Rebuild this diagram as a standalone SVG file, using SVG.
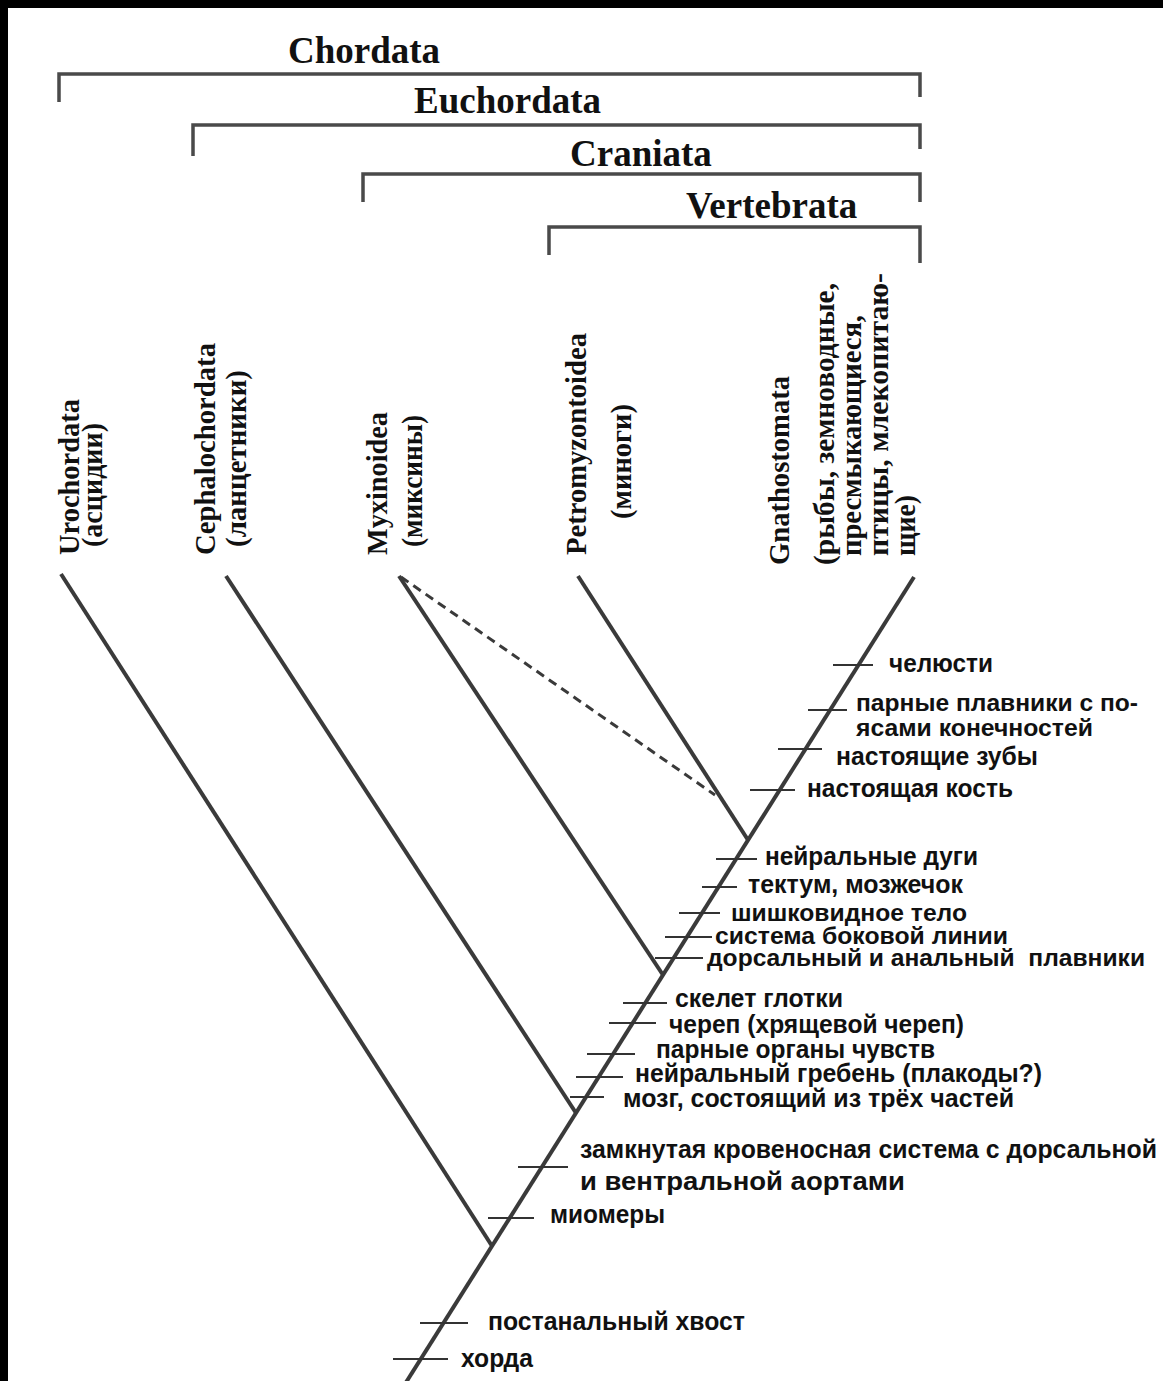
<svg xmlns="http://www.w3.org/2000/svg" width="1163" height="1381" viewBox="0 0 1163 1381">
<style>
.hdr{font-family:"Liberation Serif","Times New Roman",serif;font-weight:bold;font-size:37px;fill:#111}
.tax{font-family:"Liberation Serif","Times New Roman",serif;font-weight:bold;font-size:30px;fill:#111}
.lbl{font-family:"Liberation Sans",Arial,sans-serif;font-weight:bold;font-size:25px;fill:#111}
.sm{font-size:23px}
.br{fill:none;stroke:#4a4a4a;stroke-width:3.5}
.ln{fill:none;stroke:#3a3a3a;stroke-width:4;stroke-linecap:butt}
.tk{fill:none;stroke:#333;stroke-width:2}
.dash{fill:none;stroke:#3a3a3a;stroke-width:3;stroke-dasharray:9 6}
</style>
<rect x="0" y="0" width="1163" height="1381" fill="#fff"/>
<rect x="0" y="0" width="1163" height="8" fill="#000"/>
<rect x="0" y="0" width="8" height="1381" fill="#000"/>

<g id="clade-chordata">
<path class="br" d="M59,102 V74 H920 V97"/>
<text class="hdr" x="288" y="63">Chordata</text>
</g>
<g id="clade-euchordata">
<path class="br" d="M193,156 V125 H920 V149"/>
<text class="hdr" x="414" y="113">Euchordata</text>
</g>
<g id="clade-craniata">
<path class="br" d="M363,202 V174 H920 V202"/>
<text class="hdr" x="570" y="166">Craniata</text>
</g>
<g id="clade-vertebrata">
<path class="br" d="M549,255 V227 H920 V263"/>
<text class="hdr" x="686" y="218">Vertebrata</text>
</g>

<g id="taxon-urochordata" class="tax">
<text transform="translate(79,555) rotate(-90)" textLength="156" lengthAdjust="spacingAndGlyphs">Urochordata</text>
<text transform="translate(102,547) rotate(-90)" textLength="124" lengthAdjust="spacingAndGlyphs">(асцидии)</text>
</g>
<g id="taxon-cephalochordata" class="tax">
<text transform="translate(215,555) rotate(-90)" textLength="212" lengthAdjust="spacingAndGlyphs">Cephalochordata</text>
<text transform="translate(246,547) rotate(-90)" textLength="177" lengthAdjust="spacingAndGlyphs">(ланцетники)</text>
</g>
<g id="taxon-myxinoidea" class="tax">
<text transform="translate(387,555) rotate(-90)" textLength="143" lengthAdjust="spacingAndGlyphs">Myxinoidea</text>
<text transform="translate(422,547) rotate(-90)" textLength="132" lengthAdjust="spacingAndGlyphs">(миксины)</text>
</g>
<g id="taxon-petromyzontoidea" class="tax">
<text transform="translate(586,555) rotate(-90)" textLength="222" lengthAdjust="spacingAndGlyphs">Petromyzontoidea</text>
<text transform="translate(631,519) rotate(-90)" textLength="115" lengthAdjust="spacingAndGlyphs">(миноги)</text>
</g>
<g id="taxon-gnathostomata" class="tax">
<text transform="translate(789,565) rotate(-90)" textLength="189" lengthAdjust="spacingAndGlyphs">Gnathostomata</text>
<text transform="translate(834,565) rotate(-90)" textLength="282" lengthAdjust="spacingAndGlyphs">(рыбы, земноводные,</text>
<text transform="translate(861,556) rotate(-90)" textLength="241" lengthAdjust="spacingAndGlyphs">пресмыкающиеся,</text>
<text transform="translate(888,556) rotate(-90)" textLength="283" lengthAdjust="spacingAndGlyphs">птицы, млекопитаю-</text>
<text transform="translate(915,556) rotate(-90)" textLength="61" lengthAdjust="spacingAndGlyphs">щие)</text>
</g>

<g id="connectors">
<line class="ln" x1="405" y1="1384" x2="914" y2="577"/>
<line class="ln" x1="61" y1="574" x2="492" y2="1246"/>
<line class="ln" x1="226" y1="576" x2="576" y2="1113"/>
<line class="ln" x1="399" y1="576" x2="663" y2="975"/>
<line class="ln" x1="578" y1="576" x2="748" y2="840"/>
<line class="dash" x1="401" y1="577" x2="715" y2="795"/>
<g id="ticks">
<line class="tk" x1="833" y1="665" x2="873" y2="665"/>
<line class="tk" x1="808" y1="710" x2="847" y2="710"/>
<line class="tk" x1="778" y1="749" x2="822" y2="749"/>
<line class="tk" x1="750" y1="790" x2="795" y2="790"/>
<line class="tk" x1="716" y1="859" x2="757" y2="859"/>
<line class="tk" x1="702" y1="887" x2="737" y2="887"/>
<line class="tk" x1="679" y1="913" x2="720" y2="913"/>
<line class="tk" x1="665" y1="937" x2="712" y2="937"/>
<line class="tk" x1="655" y1="958" x2="703" y2="958"/>
<line class="tk" x1="623" y1="1003" x2="667" y2="1003"/>
<line class="tk" x1="609" y1="1023" x2="656" y2="1023"/>
<line class="tk" x1="587" y1="1054" x2="635" y2="1054"/>
<line class="tk" x1="576" y1="1077" x2="623" y2="1077"/>
<line class="tk" x1="570" y1="1097" x2="604" y2="1097"/>
<line class="tk" x1="518" y1="1167" x2="568" y2="1167"/>
<line class="tk" x1="488" y1="1218" x2="534" y2="1218"/>
<line class="tk" x1="420" y1="1323" x2="468" y2="1323"/>
<line class="tk" x1="393" y1="1359" x2="448" y2="1359"/>
</g>
</g>

<g id="characters" class="lbl">
<text x="889" y="672" textLength="104" lengthAdjust="spacingAndGlyphs">челюсти</text>
<text class="sm" x="856" y="711" textLength="282" lengthAdjust="spacingAndGlyphs">парные плавники с по-</text>
<text class="sm" x="856" y="736" textLength="237" lengthAdjust="spacingAndGlyphs">ясами конечностей</text>
<text x="836" y="765" textLength="202" lengthAdjust="spacingAndGlyphs">настоящие зубы</text>
<text x="807" y="797" textLength="206" lengthAdjust="spacingAndGlyphs">настоящая кость</text>
<text x="765" y="865" textLength="213" lengthAdjust="spacingAndGlyphs">нейральные дуги</text>
<text x="748" y="893" textLength="215" lengthAdjust="spacingAndGlyphs">тектум, мозжечок</text>
<text class="sm" x="731" y="921" textLength="236" lengthAdjust="spacingAndGlyphs">шишковидное тело</text>
<text class="sm" x="715" y="944" textLength="293" lengthAdjust="spacingAndGlyphs">система боковой линии</text>
<text class="sm" x="707" y="966" textLength="438" lengthAdjust="spacingAndGlyphs" xml:space="preserve">дорсальный и анальный  плавники</text>
<text x="675" y="1007" textLength="168" lengthAdjust="spacingAndGlyphs">скелет глотки</text>
<text x="669" y="1033" textLength="295" lengthAdjust="spacingAndGlyphs">череп (хрящевой череп)</text>
<text x="656" y="1058" textLength="279" lengthAdjust="spacingAndGlyphs">парные органы чувств</text>
<text x="635" y="1082" textLength="407" lengthAdjust="spacingAndGlyphs">нейральный гребень (плакоды?)</text>
<text x="623" y="1107" textLength="391" lengthAdjust="spacingAndGlyphs">мозг, состоящий из трёх частей</text>
<text x="580" y="1158" textLength="577" lengthAdjust="spacingAndGlyphs">замкнутая кровеносная система с дорсальной</text>
<text x="580" y="1190" textLength="325" lengthAdjust="spacingAndGlyphs">и вентральной аортами</text>
<text x="550" y="1223" textLength="115" lengthAdjust="spacingAndGlyphs">миомеры</text>
<text x="488" y="1330" textLength="257" lengthAdjust="spacingAndGlyphs">постанальный хвост</text>
<text x="461" y="1367" textLength="72" lengthAdjust="spacingAndGlyphs">хорда</text>
</g>
</svg>
